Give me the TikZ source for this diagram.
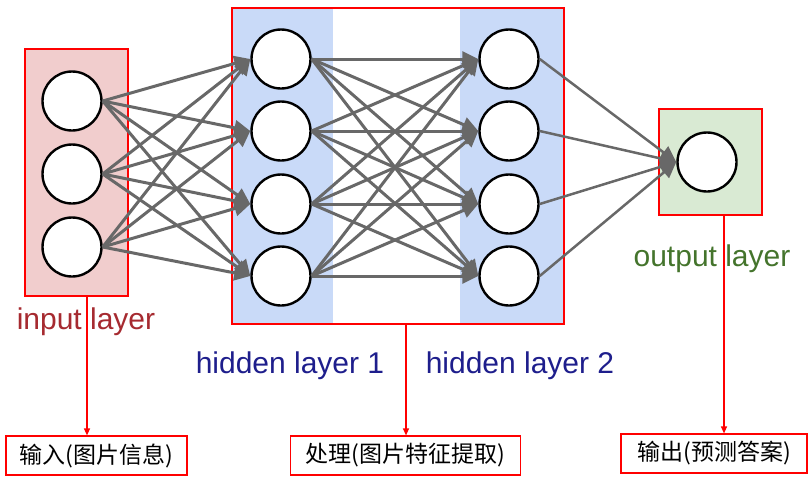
\documentclass[tikz,border=0pt]{standalone}
\usepackage{fontspec}
\setmainfont{Liberation Sans}
\newfontfamily\cjk{Noto Sans CJK SC}
\usetikzlibrary{arrows.meta}
\definecolor{pinkfill}{HTML}{F1CDCD}
\definecolor{bluefill}{HTML}{C9DAF8}
\definecolor{greenfill}{HTML}{D9EAD3}
\definecolor{linkgray}{HTML}{686868}
\definecolor{inred}{HTML}{A62A30}
\definecolor{hidblue}{HTML}{1E1E8C}
\definecolor{outgreen}{HTML}{44742C}
\begin{document}
\begin{tikzpicture}[x=1pt,y=-1pt,
  neuron/.style={circle,draw=black,line width=2.4pt,fill=white,minimum size=59pt,inner sep=0pt},
  conn/.style={draw=linkgray,line width=3pt,-{Triangle[length=16pt,width=15pt]}},
  thinconn/.style={draw=linkgray,line width=2.5pt,-{Triangle[length=16pt,width=15pt]}},
  layerbox/.style={draw=red,line width=1.2pt,inner sep=0pt},
  labelbox/.style={draw=red,line width=1.2pt,fill=white,inner sep=0pt,font=\cjk\fontsize{23}{26}\selectfont},
  redarrow/.style={draw=red,line width=1.2pt,-{Triangle[length=7pt,width=6pt]}},
  layertext/.style={font=\fontsize{30}{34}\selectfont,inner sep=0pt}]
\useasboundingbox (0,0) rectangle (810,480);
% layer backgrounds
\node[layerbox,fill=pinkfill,minimum width=103pt,minimum height=247pt] (inbox) at (76.5,172.5) {};
\fill[bluefill] (232,8) rectangle (333,324);
\fill[bluefill] (460,8) rectangle (564,324);
\node[layerbox,minimum width=332pt,minimum height=316pt] (hbox) at (398,166) {};
\node[layerbox,fill=greenfill,minimum width=103pt,minimum height=106pt] (obox) at (710.5,162) {};
% neurons
\foreach \i/\y in {1/101,2/174,3/247} \node[neuron] (i\i) at (72,\y) {};
\foreach \i/\y in {1/59,2/131,3/204,4/276} \node[neuron] (h\i) at (281,\y) {};
\foreach \i/\y in {1/59,2/131,3/204,4/276} \node[neuron] (g\i) at (509,\y) {};
\node[neuron] (o) at (707,162) {};
% connections
\foreach \a in {1,2,3} \foreach \b in {1,2,3,4} \draw[conn] (i\a.east) -- (h\b.west);
\foreach \a in {1,2,3,4} \foreach \b in {1,2,3,4} \draw[conn] (h\a.east) -- (g\b.west);
\foreach \a in {1,2,3,4} \draw[thinconn] (g\a.east) -- (o.west);
% bottom boxes
\node[labelbox,minimum width=181pt,minimum height=39pt] (b1) at (96.5,455.5) {输入(图片信息)};
\node[labelbox,minimum width=230pt,minimum height=39pt] (b2) at (405.5,455.5) {处理(图片特征提取)};
\node[labelbox,minimum width=186pt,minimum height=39pt] (b3) at (714,453.5) {输出(预测答案)};
% red arrows
\coordinate (s1) at (87,296);
\coordinate (s2) at (406,324);
\coordinate (s3) at (724,215);
\draw[redarrow] (s1) -- (s1 |- b1.north);
\draw[redarrow] (s2) -- (s2 |- b2.north);
\draw[redarrow] (s3) -- (s3 |- b3.north);
% layer labels
\node[layertext,text=inred] (lin) at (86,322) {input layer};
\node[layertext,text=hidblue] (lh1) at (290,366) {hidden layer 1};
\node[layertext,text=hidblue] (lh2) at (520,366) {hidden layer 2};
\node[layertext,text=outgreen] (lout) at (712,259) {output layer};
\end{tikzpicture}
\end{document}
